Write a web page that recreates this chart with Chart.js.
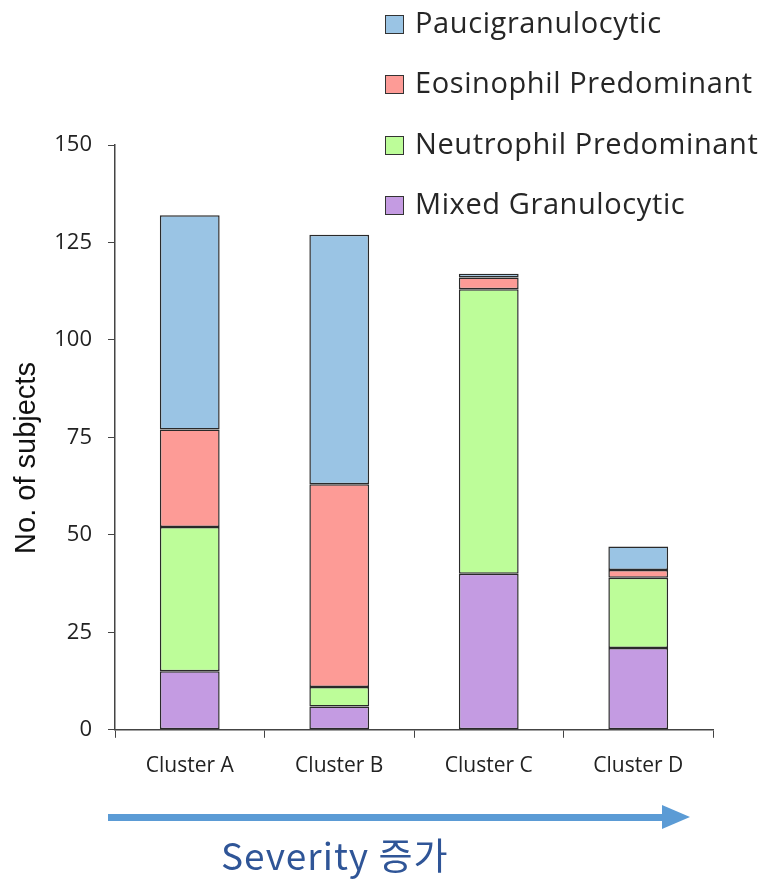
<!DOCTYPE html>
<html>
<head>
<meta charset="utf-8">
<script src="https://cdn.jsdelivr.net/npm/chart.js@4"></script>
<style>
  html, body { margin: 0; padding: 0; background: #fff; }
  #wrap { position: relative; width: 765px; height: 881px; }
  #chart { position: absolute; left: 0; top: 0; }
  .legend { position: absolute; left: 385px; font-family: "Open Sans", sans-serif; font-size: 29px; letter-spacing: 0.6px; color: #262626; line-height: 34px; white-space: nowrap; }
  .legend span.box { display: inline-block; width: 17px; height: 17px; border: 1.5px solid #333; margin-right: 11px; vertical-align: -1px; }
  #severity { position: absolute; left: 221px; top: 832px; font-family: "Noto Sans CJK KR", "Open Sans", sans-serif; font-size: 37px; letter-spacing: 1px; color: #2f5597; line-height: 44px; }
  #ytitle { position: absolute; left: 25px; top: 458px; width: 300px; margin-left: -150px; margin-top: -17px; text-align: center; transform: rotate(-90deg); font-family: "Liberation Sans", sans-serif; font-size: 29px; line-height: 34px; color: #111; white-space: nowrap; }
  #arrow { position: absolute; left: 0; top: 0; }
</style>
</head>
<body>
<div id="wrap">
  <canvas id="chart" width="765" height="881"></canvas>
  <div id="legendBox"></div>
  <div id="ytitle">No. of subjects</div>
  <svg id="arrow" width="765" height="881">
    <rect x="108" y="814" width="558" height="7" fill="#5b9bd5"></rect>
    <polygon points="662,805 690,817 662,829" fill="#5b9bd5"></polygon>
  </svg>
  <div id="severity">Severity 증가</div>
</div>
<script>
const categories = ["Cluster A", "Cluster B", "Cluster C", "Cluster D"];
const seriesNames = ["Mixed Granulocytic", "Neutrophil Predominant", "Eosinophil Predominant", "Paucigranulocytic"];
const mixed = [15, 6, 40, 21];
const neutrophil = [37, 5, 73, 18];
const eosinophil = [25, 52, 3, 2];
const pauci = [55, 64, 1, 6];
const yTicks = [0, 25, 50, 75, 100, 125, 150];
const colors = ["#c49be2", "#bdfd99", "#fd9b96", "#9ac4e4"];

const values = [mixed, neutrophil, eosinophil, pauci];

// legend, top entry first (reverse of stack order)
const legendBox = document.getElementById("legendBox");
const legendTops = [5, 65, 126, 186];
for (let i = 3; i >= 0; i--) {
  const row = document.createElement("div");
  row.className = "legend";
  row.style.top = legendTops[3 - i] + "px";
  row.innerHTML = '<span class="box" style="background:' + colors[i] + '"></span>' + seriesNames[i];
  legendBox.appendChild(row);
}

new Chart(document.getElementById("chart"), {
  type: "bar",
  data: {
    labels: categories,
    datasets: seriesNames.map((name, i) => ({
      label: name,
      data: values[i],
      backgroundColor: colors[i],
      borderColor: "#2a2a2a",
      borderWidth: 1.5,
      borderSkipped: false,
      barPercentage: 0.4,
      categoryPercentage: 1
    }))
  },
  options: {
    responsive: false,
    animation: false,
    layout: { padding: { top: 145, right: 52, bottom: 86, left: 0 } },
    plugins: { legend: { display: false }, tooltip: { enabled: false } },
    scales: {
      x: {
        stacked: true,
        grid: { drawOnChartArea: false, color: "#444", tickLength: 8, offset: true },
        border: { color: "#444", width: 1.5 },
        ticks: { color: "#222", font: { family: "Open Sans", size: 21 }, padding: 16 }
      },
      y: {
        stacked: true,
        min: 0,
        max: 150,
        afterBuildTicks: s => { s.ticks = yTicks.map(v => ({ value: v })); },
        afterFit: s => { s.width = 115; },
        grid: { drawOnChartArea: false, color: "#444", tickLength: 7 },
        border: { color: "#444", width: 1.5 },
        ticks: { color: "#222", font: { family: "Open Sans", size: 22 }, padding: 16 }
      }
    }
  }
});
</script>
</body>
</html>
